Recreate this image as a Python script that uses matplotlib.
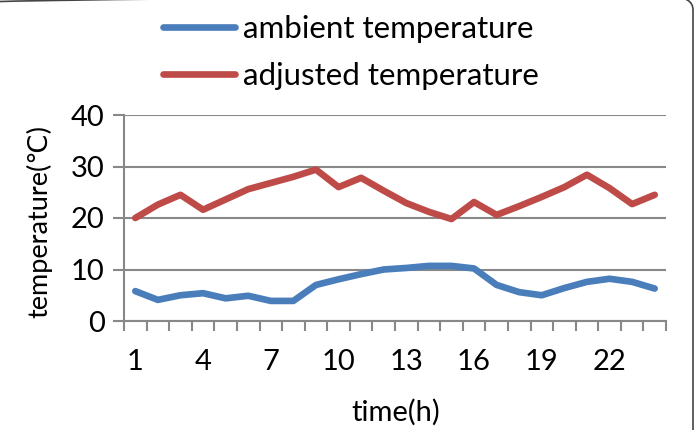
import numpy as np
import matplotlib
matplotlib.use("Agg")
import matplotlib.pyplot as plt
from matplotlib.lines import Line2D
from matplotlib.patches import FancyBboxPatch

plt.rcParams['font.family'] = ['Lato', 'DejaVu Sans']

hours = list(range(1, 25))
ambient = [5.8, 4.1, 5.0, 5.4, 4.4, 4.9, 3.9, 3.9, 7.0, 8.1, 9.1, 10.0,
           10.3, 10.7, 10.7, 10.2, 7.0, 5.6, 5.0, 6.4, 7.6, 8.2, 7.6, 6.3]
adjusted = [20.0, 22.6, 24.5, 21.6, 23.6, 25.6, 26.8, 28.0, 29.4, 26.0, 27.8, 25.3,
            22.9, 21.2, 19.8, 23.1, 20.6, 22.3, 24.1, 26.0, 28.4, 25.8, 22.7, 24.5]
xtick_labels = ['1', '4', '7', '10', '13', '16', '19', '22']
yticks = [0, 10, 20, 30, 40]

blue = '#4a7ebb'
red = '#be4b48'
grey = '#888888'
lw = 4.8

fig = plt.figure(figsize=(6.95, 4.3), dpi=100)
ax = fig.add_axes([124/695, 1-321/430, (666-124)/695, (321-115)/430])

ax.plot(hours, ambient, color=blue, lw=lw, solid_capstyle='round', solid_joinstyle='round')
ax.plot(hours, adjusted, color=red, lw=lw, solid_capstyle='round', solid_joinstyle='round')

ax.set_xlim(0.5, 24.5)
ax.set_ylim(0, 40)
ax.set_yticks(yticks)
ax.yaxis.grid(True, color=grey, lw=1.5)
ax.set_axisbelow(True)

ax.set_xticks([int(s) for s in xtick_labels])
ax.set_xticklabels(xtick_labels)
ax.set_xticks(np.arange(0.5, 25, 1), minor=True)
ax.tick_params(axis='x', which='major', length=0, pad=20, labelsize=21)
ax.tick_params(axis='x', which='minor', length=7, width=1.5, color=grey)
ax.tick_params(axis='y', length=8, width=1.5, color=grey, pad=6, labelsize=21)

for s in ['top', 'right']:
    ax.spines[s].set_visible(False)
for s in ['left', 'bottom']:
    ax.spines[s].set_color(grey)
    ax.spines[s].set_linewidth(1.5)

ax.set_xlabel('time(h)', fontsize=21)
ax.xaxis.set_label_coords((396-124)/542, -(412-321)/206, transform=ax.transAxes)
ax.xaxis.label.set_va('center')
ax.set_ylabel('temperature(\u2103)', fontsize=19.5)
ax.yaxis.set_label_coords(-(124-39)/542, (321-222)/206, transform=ax.transAxes)
ax.yaxis.label.set_va('center')

# legend above the plot
handles = [Line2D([], [], color=blue, lw=lw, solid_capstyle='round'),
           Line2D([], [], color=red, lw=lw, solid_capstyle='round')]
fig.legend(handles, ['ambient temperature', 'adjusted temperature'],
           loc='upper left', bbox_to_anchor=(163/695, (430-15)/430), frameon=False,
           borderpad=0, borderaxespad=0,
           fontsize=22.5, handlelength=2.3, handletextpad=0.25, labelspacing=0.6)

# chart border, partly cut off
fig.patches.append(FancyBboxPatch((-0.2, -0.2), 0.2+693/695, 0.2+433/430,
                                  boxstyle='round,pad=0,rounding_size=0.03',
                                  transform=fig.transFigure, fill=False,
                                  edgecolor='#444444', lw=1.2))

fig.savefig('out.png', dpi=100)
